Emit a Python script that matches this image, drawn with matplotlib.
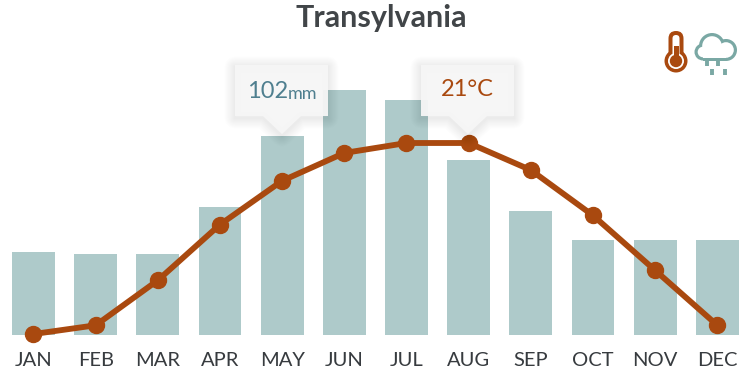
import matplotlib
matplotlib.use("Agg")
import matplotlib.pyplot as plt
from matplotlib.patches import Circle, Polygon, FancyBboxPatch, Rectangle

months = ["JAN", "FEB", "MAR", "APR", "MAY", "JUN", "JUL", "AUG", "SEP", "OCT", "NOV", "DEC"]
rain = [42.5, 41.5, 41.5, 65.5, 102, 125.5, 120.5, 90, 63.5, 48.5, 48.5, 48.5]
temp = [-3, -1.9, 3.75, 10.75, 16.25, 19.75, 21, 21, 17.6, 11.9, 5, -1.9]

BAR = "#aecaca"
RUST = "#a9490f"
TEAL = "#7aa8a4"
TEXT = "#373b3f"

plt.rcParams["font.family"] = ["Lato", "DejaVu Sans"]

fig = plt.figure(figsize=(7.5, 3.73), dpi=100)

# bars, 1.95 px per mm, baseline at y=335 px
ax = fig.add_axes([2.4 / 750, 1 - 335 / 373, 746 / 750, 335 / 373])
ax.bar(range(12), rain, width=0.69, color=BAR, zorder=1)
ax.set_xlim(-0.5, 11.5)
ax.set_ylim(0, 335 / 1.95)
ax.set_xticks(range(12))
ax.set_xticklabels(months, fontsize=14.5, color=TEXT)
ax.tick_params(axis="x", length=0, pad=12)
ax.set_yticks([])
for s in ax.spines.values():
    s.set_visible(False)

# temperature, 21C at y=143 px, 8 px per degree
ax2 = ax.twinx()
ax2.plot(range(12), temp, color=RUST, lw=4.2, marker="o", ms=11.5, zorder=3, clip_on=False)
ax2.set_ylim(21 - (335 - 143) / 7.96, 21 + 143 / 7.96)
ax2.set_yticks([])
for s in ax2.spines.values():
    s.set_visible(False)

# overlay in pixel coordinates for callouts and icons
ov = fig.add_axes([0, 0, 1, 1])
ov.set_xlim(0, 750)
ov.set_ylim(373, 0)
ov.axis("off")
ov.patch.set_alpha(0)


def callout(x0, tip):
    x1 = x0 + 93
    pts = [(x0, 65), (x1, 65), (x1, 116), (tip + 19, 116), (tip, 134), (tip - 19, 116), (x0, 116)]
    for i in range(10, 0, -1):
        ov.add_patch(Polygon([(a, b + 2) for a, b in pts], closed=True, fc="none",
                             ec="#000000", lw=i * 1.5, alpha=0.007, joinstyle="round", zorder=4))
    ov.add_patch(Polygon(pts, closed=True, fc="#f6f6f6", ec="none", alpha=0.95, zorder=5))


callout(235, 282)
callout(421, 468)
ov.text(247, 91, "102", fontsize=17, color="#4f7f8f", va="center", ha="left", zorder=6)
ov.text(288, 94, "mm", fontsize=13, color="#4f7f8f", va="center", ha="left", zorder=6)
ov.text(467, 90, "21°C", fontsize=17, color=RUST, va="center", ha="center", zorder=6)

ov.text(381, 18, "Transylvania", fontsize=22, fontweight="bold", color="#414548", ha="center", va="center")

# thermometer
ov.add_patch(FancyBboxPatch((668.5, 31), 15, 30, boxstyle="round,pad=0,rounding_size=7.5", fc=RUST, ec="none"))
ov.add_patch(Circle((676, 61), 11.5, fc=RUST, ec="none"))
ov.add_patch(FancyBboxPatch((672.5, 35), 7, 26, boxstyle="round,pad=0,rounding_size=3.5", fc="white", ec="none"))
ov.add_patch(Circle((676, 61), 8, fc="white", ec="none"))
ov.add_patch(Rectangle((674, 46), 4.5, 12, fc=RUST, ec="none"))
ov.add_patch(Circle((676, 61), 6.2, fc=RUST, ec="none"))

# rain cloud
for cx, cy, r in [(712, 46, 13), (726, 50, 11), (703, 52, 8.5)]:
    ov.add_patch(Circle((cx, cy), r, fc=TEAL, ec="none"))
ov.add_patch(Rectangle((703, 50), 23, 11, fc=TEAL, ec="none"))
for cx, cy, r in [(712, 46, 9.8), (726, 50, 7.8), (703, 52, 5.3)]:
    ov.add_patch(Circle((cx, cy), r, fc="white", ec="none"))
ov.add_patch(Rectangle((703, 48), 23, 9.6, fc="white", ec="none"))
for x, y0, y1 in [(707, 61, 66), (718, 61, 66), (712, 69, 75), (725, 69, 75)]:
    ov.plot([x, x], [y0, y1], color=TEAL, lw=2.8, solid_capstyle="butt")

fig.savefig("out.png", dpi=100)
